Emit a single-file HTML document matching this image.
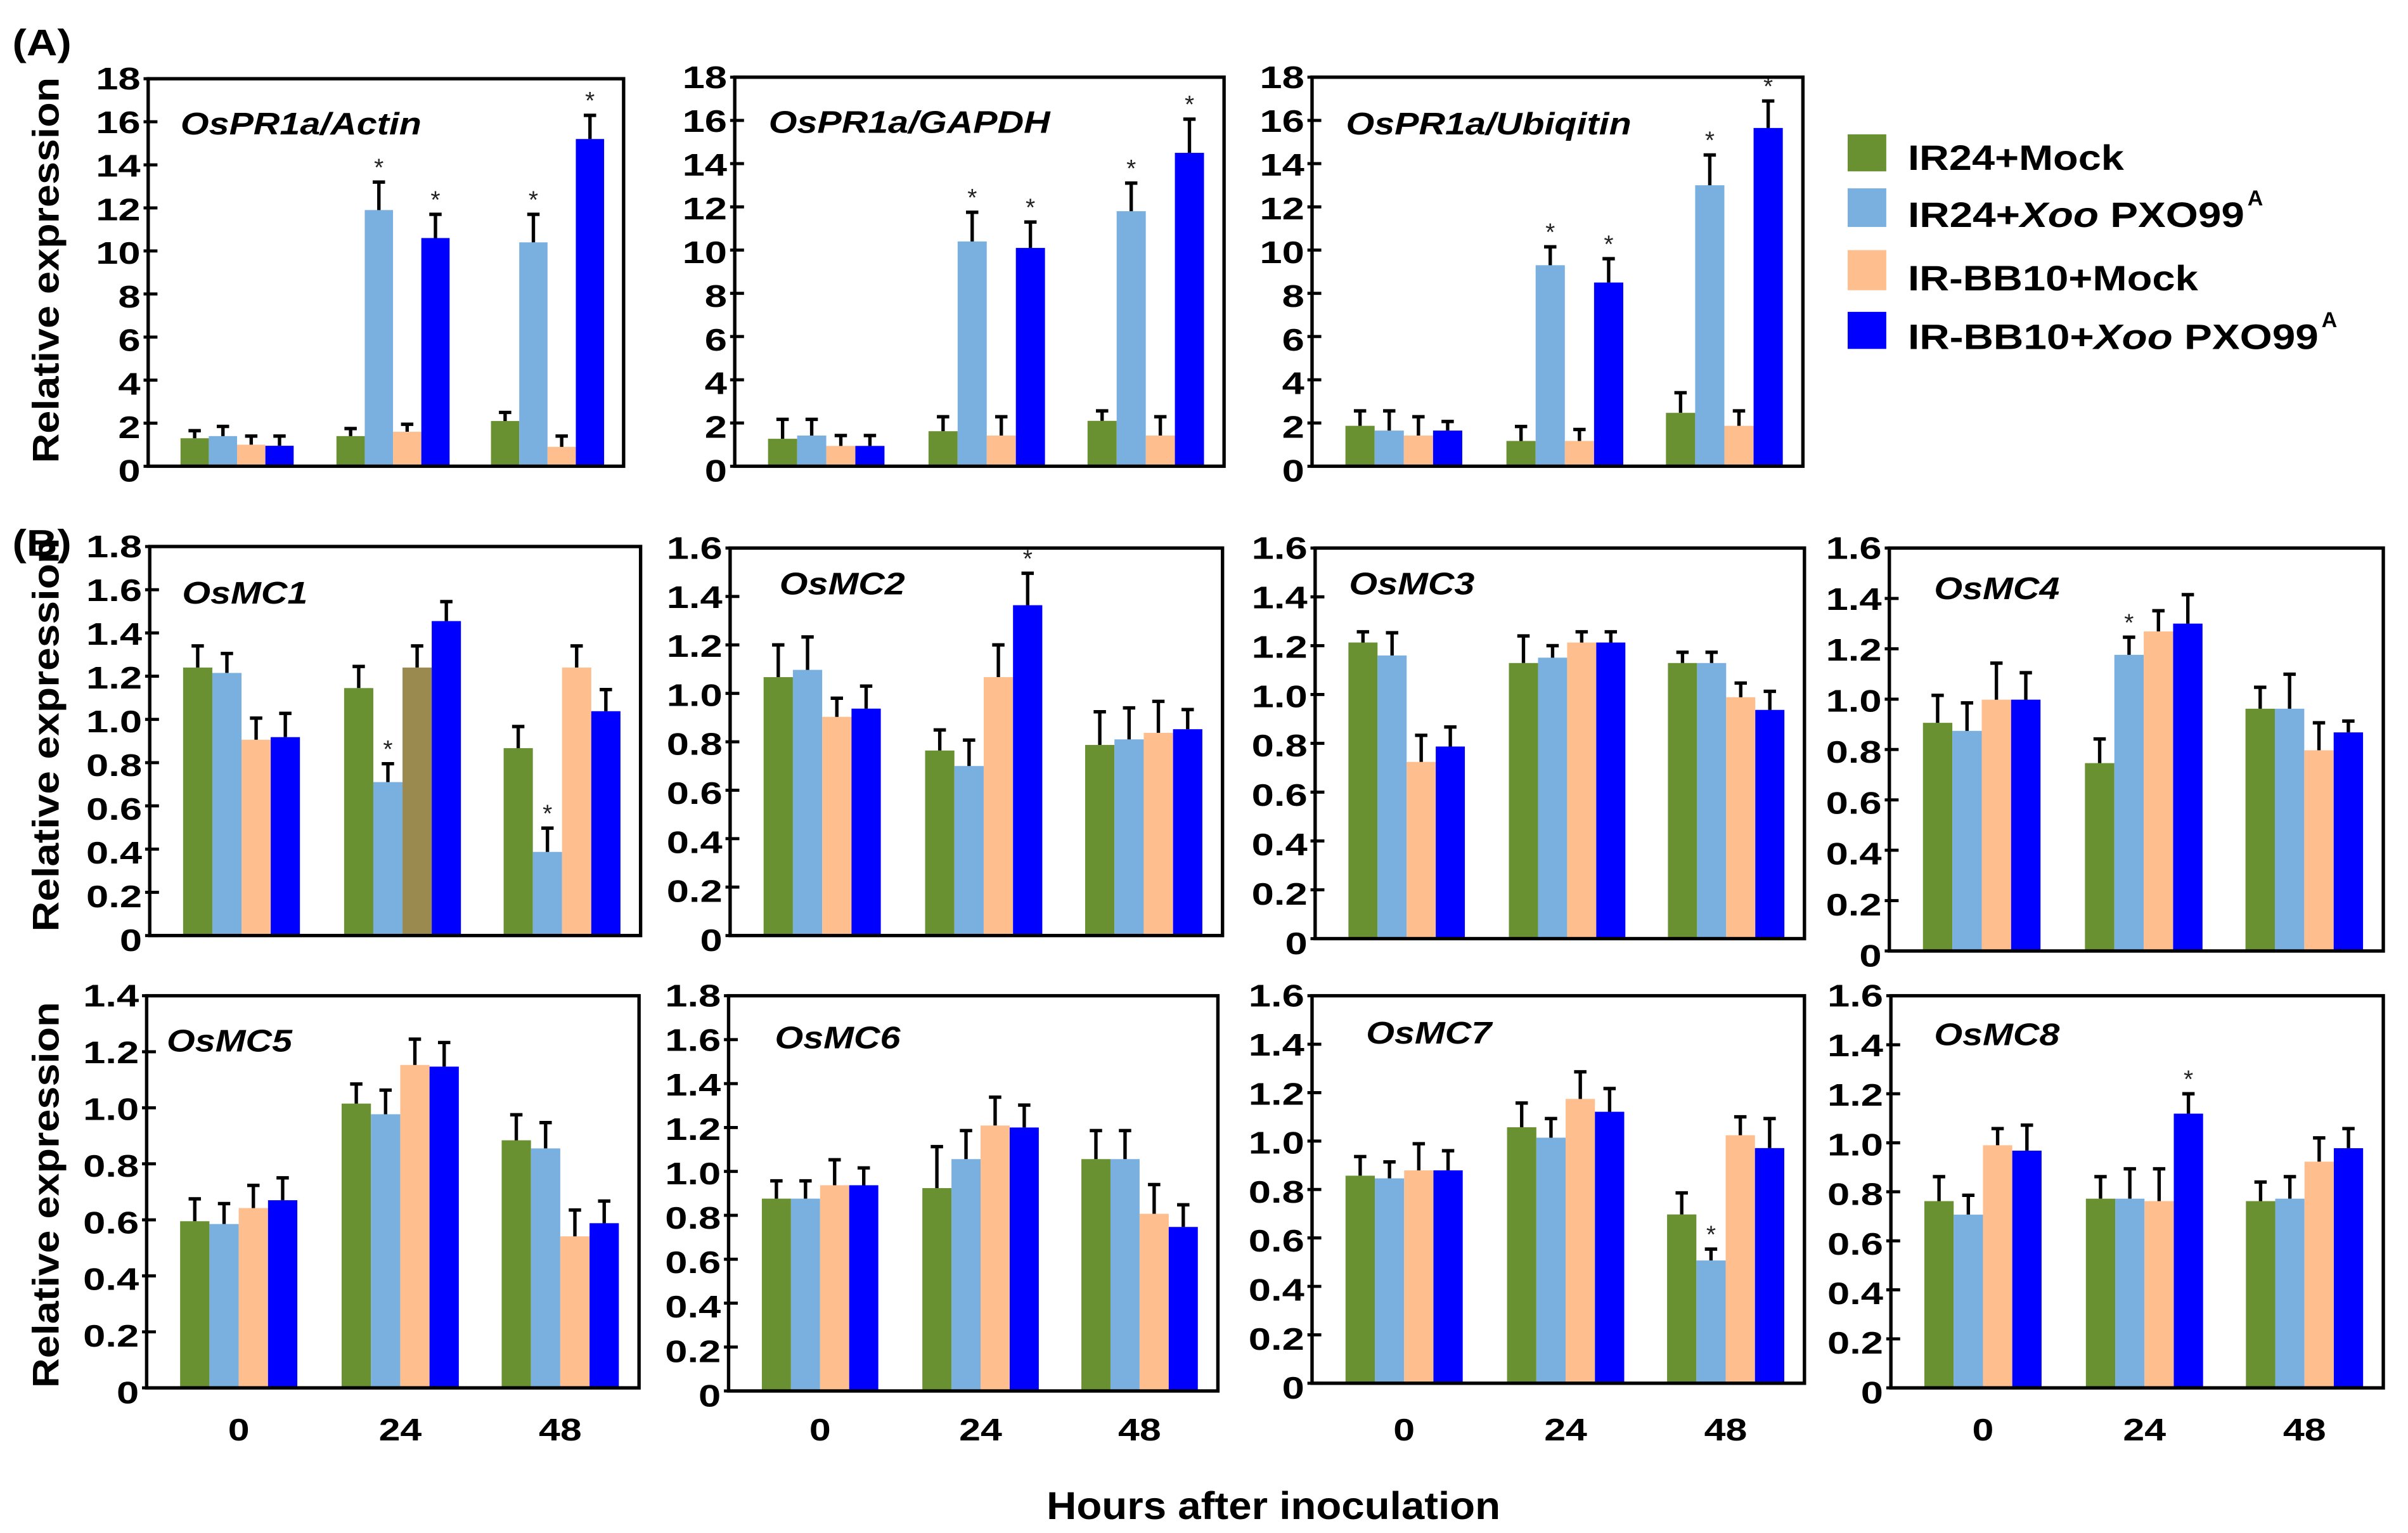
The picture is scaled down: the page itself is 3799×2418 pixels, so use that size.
<!DOCTYPE html>
<html><head><meta charset="utf-8"><title>Relative expression of OsPR1a and OsMC genes</title>
<style>html,body{margin:0;padding:0;background:#fff;}svg{display:block;}text{font-family:"Liberation Sans",Arial,sans-serif;}</style>
</head><body>
<svg id="fig" xmlns="http://www.w3.org/2000/svg" width="3799" height="2418" viewBox="0 0 1560 993" preserveAspectRatio="none">
<rect x="0" y="0" width="1560" height="993" fill="#fff"/>
<text x="8" y="36" font-size="24" font-weight="bold" transform="translate(8,36) scale(1.15,1) translate(-8,-36)">(A)</text>
<text x="8" y="360" font-size="24" font-weight="bold" transform="translate(8,360) scale(1.15,1) translate(-8,-360)">(B)</text>
<g>
<rect x="1197" y="87" width="25" height="24" fill="#6a9131"/>
<rect x="1197" y="122" width="25" height="25" fill="#7ab0e0"/>
<rect x="1197" y="162" width="25" height="26" fill="#ffbe8e"/>
<rect x="1197" y="202" width="25" height="24" fill="#0000ff"/>
<text x="1236" y="110" font-size="23" font-weight="bold" textLength="140" lengthAdjust="spacingAndGlyphs">IR24+Mock</text>
<text x="1236" y="147" font-size="23" font-weight="bold" textLength="218" lengthAdjust="spacingAndGlyphs">IR24+<tspan font-style="italic">Xoo</tspan> PXO99</text>
<text x="1456" y="133" font-size="14" font-weight="bold">A</text>
<text x="1236" y="188" font-size="23" font-weight="bold" textLength="188" lengthAdjust="spacingAndGlyphs">IR-BB10+Mock</text>
<text x="1236" y="226" font-size="23" font-weight="bold" textLength="266" lengthAdjust="spacingAndGlyphs">IR-BB10+<tspan font-style="italic">Xoo</tspan> PXO99</text>
<text x="1504" y="212" font-size="14" font-weight="bold">A</text>
</g>
<text font-size="24" font-weight="bold" text-anchor="middle" transform="translate(38,175) rotate(-90)" textLength="250" lengthAdjust="spacingAndGlyphs">Relative expression</text>
<text font-size="24" font-weight="bold" text-anchor="middle" transform="translate(38,476) rotate(-90)" textLength="255" lengthAdjust="spacingAndGlyphs">Relative expression</text>
<text font-size="24" font-weight="bold" text-anchor="middle" transform="translate(38,774) rotate(-90)" textLength="250" lengthAdjust="spacingAndGlyphs">Relative expression</text>
<text x="825" y="984" font-size="25" font-weight="bold" text-anchor="middle" textLength="294" lengthAdjust="spacingAndGlyphs">Hours after inoculation</text>
<g id="panels"></g>
</svg>
<script>
const timeCategories = ["0","24","48"];
const seriesNames = ["IR24+Mock","IR24+Xoo PXO99A","IR-BB10+Mock","IR-BB10+Xoo PXO99A"];
const seriesColors = ["#6a9131","#7ab0e0","#ffbe8e","#0000ff"];
const panelTitles = ["OsPR1a/Actin","OsPR1a/GAPDH","OsPR1a/Ubiqitin","OsMC1","OsMC2","OsMC3","OsMC4","OsMC5","OsMC6","OsMC7","OsMC8"];
const panelYMax = [18,18,18,1.8,1.6,1.6,1.6,1.4,1.8,1.6,1.6];
const panelYStep = [2,2,2,0.2,0.2,0.2,0.2,0.2,0.2,0.2,0.2];
const actinMeans = [1.3,1.4,1.0,0.95, 1.4,11.9,1.6,10.6, 2.1,10.4,0.9,15.2];
const actinErr = [0.35,0.45,0.4,0.45, 0.35,1.3,0.35,1.1, 0.4,1.3,0.5,1.1];
const gapdhMeans = [1.27,1.42,0.94,0.94, 1.62,10.4,1.42,10.1, 2.1,11.8,1.42,14.5];
const gapdhErr = [0.9,0.75,0.48,0.48, 0.67,1.35,0.87,1.2, 0.46,1.3,0.87,1.56];
const ubiqitinMeans = [1.87,1.65,1.42,1.65, 1.17,9.3,1.17,8.5, 2.47,13.0,1.87,15.65];
const ubiqitinErr = [0.69,0.91,0.87,0.42, 0.67,0.85,0.53,1.1, 0.93,1.4,0.69,1.25];
const mc1Means = [1.24,1.215,0.906,0.918, 1.145,0.71,1.24,1.455, 0.867,0.387,1.24,1.038];
const mc1Err = [0.1,0.09,0.1,0.11, 0.1,0.085,0.1,0.09, 0.1,0.11,0.1,0.1];
const mc2Means = [1.067,1.097,0.903,0.937, 0.764,0.7,1.067,1.364, 0.787,0.81,0.837,0.852];
const mc2Err = [0.133,0.136,0.077,0.093, 0.085,0.107,0.133,0.132, 0.137,0.13,0.13,0.081];
const mc3Means = [1.213,1.16,0.724,0.787, 1.129,1.151,1.213,1.213, 1.129,1.129,0.989,0.937];
const mc3Err = [0.044,0.093,0.109,0.08, 0.111,0.049,0.044,0.044, 0.044,0.044,0.058,0.076];
const mc4Means = [0.906,0.874,0.998,0.998, 0.746,1.176,1.269,1.3, 0.962,0.962,0.797,0.868];
const mc4Err = [0.109,0.111,0.145,0.107, 0.096,0.07,0.082,0.115, 0.085,0.137,0.109,0.045];
const mc5Means = [0.595,0.585,0.642,0.67, 1.015,0.977,1.153,1.147, 0.884,0.855,0.541,0.588];
const mc5Err = [0.08,0.073,0.081,0.08, 0.07,0.086,0.092,0.086, 0.091,0.092,0.094,0.079];
const mc6Means = [0.876,0.876,0.937,0.937, 0.924,1.056,1.209,1.2, 1.056,1.056,0.807,0.747];
const mc6Err = [0.081,0.081,0.116,0.079, 0.189,0.13,0.129,0.102, 0.13,0.13,0.133,0.101];
const mc7Means = [0.857,0.846,0.879,0.879, 1.057,1.014,1.174,1.121, 0.697,0.507,1.024,0.971];
const mc7Err = [0.079,0.068,0.11,0.081, 0.1,0.079,0.112,0.096, 0.089,0.047,0.076,0.122];
const mc8Means = [0.762,0.707,0.99,0.968, 0.772,0.772,0.762,1.119, 0.762,0.772,0.923,0.978];
const mc8Err = [0.1,0.079,0.068,0.104, 0.09,0.122,0.132,0.081, 0.078,0.09,0.097,0.08];
const significantBars = [[5,7,9,11],[5,7,9,11],[5,7,9,11],[5,9],[7],[],[5],[],[],[9],[7]];

const allMeans = [actinMeans,gapdhMeans,ubiqitinMeans,mc1Means,mc2Means,mc3Means,mc4Means,mc5Means,mc6Means,mc7Means,mc8Means];
const allErr = [actinErr,gapdhErr,ubiqitinErr,mc1Err,mc2Err,mc3Err,mc4Err,mc5Err,mc6Err,mc7Err,mc8Err];

const boxes = [
 {x:96,y:51,w:308,h:251,tx:21,ty:36},{x:476,y:50,w:317,h:252,tx:22,ty:36},{x:850,y:50,w:318,h:252,tx:22,ty:37},
 {x:97,y:354,w:318,h:252,tx:21,ty:37},{x:473,y:355,w:319,h:251,tx:32,ty:30},{x:852,y:355,w:317,h:253,tx:22,ty:30},{x:1224,y:355,w:320,h:261,tx:29,ty:33},
 {x:95,y:645,w:319,h:254,tx:13,ty:36},{x:472,y:645,w:317,h:256,tx:30,ty:34},{x:850,y:645,w:319,h:251,tx:35,ty:31},{x:1225,y:645,w:319,h:254,tx:28,ty:32}
];
const groupFrac = [0.187,0.515,0.84];
const NS = "http://www.w3.org/2000/svg";
const root = document.getElementById("panels");
function mk(tag, attrs, parent){const e=document.createElementNS(NS,tag);for(const k in attrs)e.setAttribute(k,attrs[k]);(parent||root).appendChild(e);return e;}

boxes.forEach((b,p)=>{
  const g = mk("g",{});
  
  
  const ymax = panelYMax[p], step = panelYStep[p];
  const yScale = v => b.y + b.h - v / ymax * b.h;
  const bw = b.w * 0.0595;
  const xScale = (gi, si) => b.x + groupFrac[gi]*b.w + (si-2)*bw;
  const means = allMeans[p], errs = allErr[p];
  for (let gi=0; gi<3; gi++){
    for (let si=0; si<4; si++){
      const i = gi*4+si, v = means[i], e = errs[i];
      const x0 = xScale(gi,si), yt = yScale(v);
      let col = seriesColors[si];
      if (p===3 && gi===1 && si===2) col = "#9a8a50";
      const r = mk("rect",{x:x0,y:yt,width:bw,height:yScale(0)-yt,fill:col},g);
      
      
      const cx = x0 + bw/2, ye = yScale(v+e);
      const eb = mk("path",{d:`M${cx},${yt} V${ye} M${cx-4},${ye} H${cx+4}`,stroke:"#000","stroke-width":2.2,fill:"none"},g);
      
      
      if (significantBars[p].includes(i)){
        const st = mk("text",{x:cx,y:ye-4,"font-size":16,"text-anchor":"middle",fill:"#222"},g);
        st.textContent = "*";
        
        
      }
    }
  }
  const frame = mk("rect",{x:b.x,y:b.y,width:b.w,height:b.h,fill:"none",stroke:"#000","stroke-width":2.2},g);
  
  
  const n = Math.round(ymax/step);
  for (let k=0;k<=n;k++){
    const v = k*step, y = yScale(v);
    const t = mk("line",{x1:b.x-3,x2:b.x+6,y1:y,y2:y,stroke:"#000","stroke-width":2},g);
    
    
    const lbl = (step>=1 || k===0) ? String(Math.round(v)) : v.toFixed(1);
    const tx = b.x-5, ty = y + 7 + 3*(1 - k/n);
    const tl = mk("text",{x:0,y:0,"font-size":20,"font-weight":"bold","text-anchor":"end",transform:`translate(${tx},${ty}) scale(1.3,1)`},g);
    tl.textContent = lbl;
    
    
  }
  const tt = mk("text",{x:0,y:0,"font-size":20,"font-weight":"bold","font-style":"italic",transform:`translate(${b.x+b.tx},${b.y+b.ty}) scale(1.18,1)`},g);
  tt.textContent = panelTitles[p];
  
  
  if (p>=7){
    for (let gi=0; gi<3; gi++){
      const xl = mk("text",{x:0,y:0,"font-size":20,"font-weight":"bold","text-anchor":"middle",transform:`translate(${b.x+groupFrac[gi]*b.w},933) scale(1.25,1)`},g);
      xl.textContent = timeCategories[gi];
      
      
    }
  }
});
</script>
</body></html>
